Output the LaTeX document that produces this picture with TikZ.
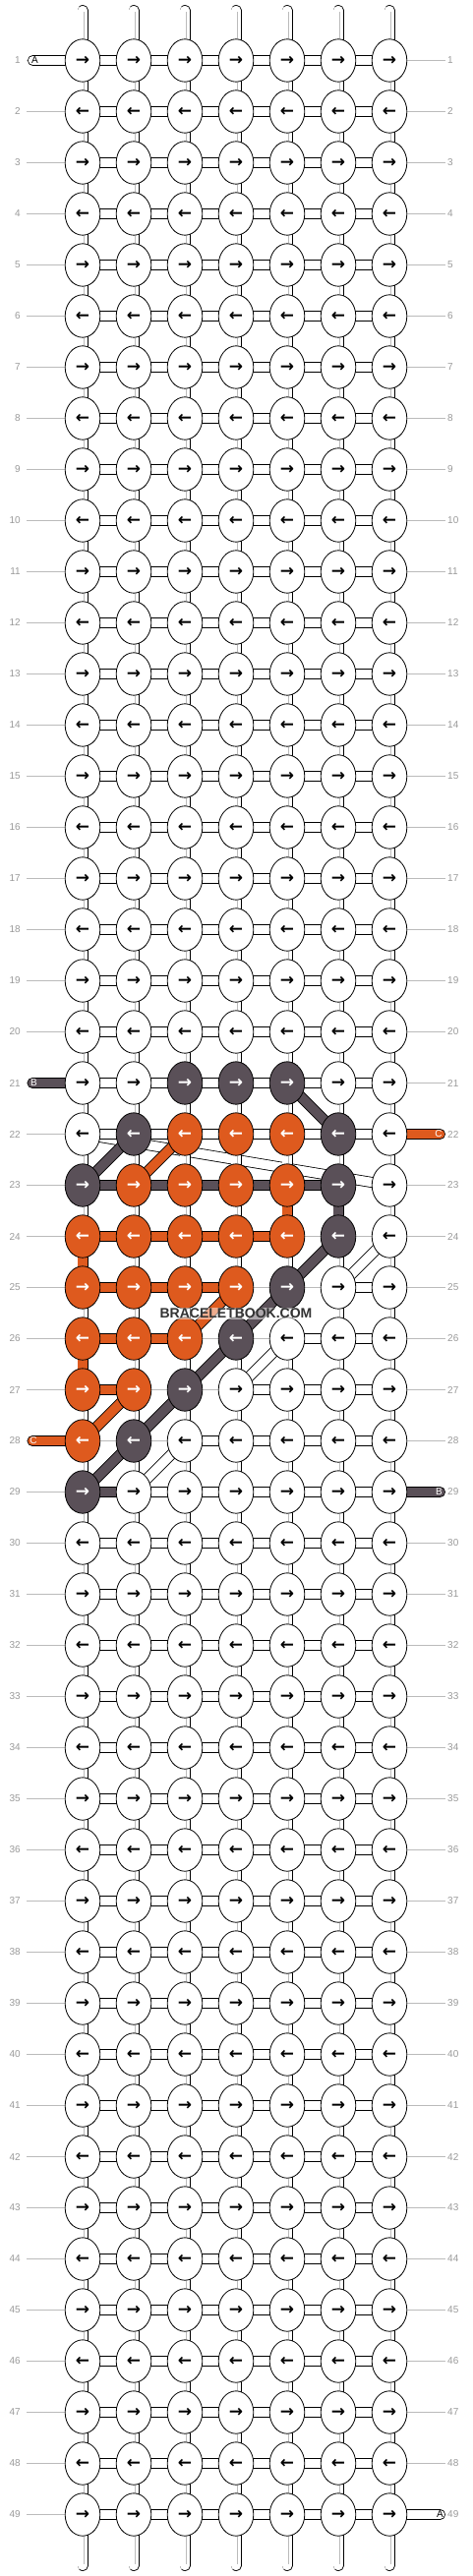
\documentclass[tikz,border=0pt]{standalone}
\usepackage{fontspec}
\setmainfont{Liberation Sans}
\newfontfamily\pilfont{DejaVu Sans}
\usetikzlibrary{shapes.geometric,backgrounds}

\definecolor{bdark}{HTML}{5A5058}
\definecolor{borange}{HTML}{DE5A1E}
\definecolor{linegray}{HTML}{BBBBBB}
\definecolor{numgray}{HTML}{999999}

\tikzset{
  knot/.style={ellipse, draw, line width=0.8pt, fill=white, text=black,
    minimum width=35.6pt, minimum height=43.4pt, inner sep=0pt,
    font=\pilfont\bfseries\fontsize{17}{17}\selectfont},
  darkknot/.style={fill=bdark, text=white},
  orangeknot/.style={fill=borange, text=white},
  tube/.style={line width=0.8pt, double=white, double distance=9.4pt},
  dtube/.style={tube, double=bdark},
  otube/.style={tube, double=borange},
  strand/.style={draw=linegray, line width=0.5pt, double=white, double distance=2pt},
  rowline/.style={draw=linegray, line width=0.8pt},
  rownum/.style={text=numgray, font=\fontsize{10}{12}\selectfont, inner sep=0pt},
  endlabel/.style={font=\fontsize{10}{12}\selectfont, inner sep=0pt},
  % fargede knuter
  k-21-3/.style=darkknot, k-21-4/.style=darkknot, k-21-5/.style=darkknot,
  k-22-2/.style=darkknot, k-22-6/.style=darkknot,
  k-22-3/.style=orangeknot, k-22-4/.style=orangeknot, k-22-5/.style=orangeknot,
  k-23-1/.style=darkknot, k-23-6/.style=darkknot,
  k-23-2/.style=orangeknot, k-23-3/.style=orangeknot, k-23-4/.style=orangeknot, k-23-5/.style=orangeknot,
  k-24-1/.style=orangeknot, k-24-2/.style=orangeknot, k-24-3/.style=orangeknot, k-24-4/.style=orangeknot, k-24-5/.style=orangeknot,
  k-24-6/.style=darkknot,
  k-25-1/.style=orangeknot, k-25-2/.style=orangeknot, k-25-3/.style=orangeknot, k-25-4/.style=orangeknot,
  k-25-5/.style=darkknot,
  k-26-1/.style=orangeknot, k-26-2/.style=orangeknot, k-26-3/.style=orangeknot,
  k-26-4/.style=darkknot,
  k-27-1/.style=orangeknot, k-27-2/.style=orangeknot,
  k-27-3/.style=darkknot,
  k-28-1/.style=orangeknot,
  k-28-2/.style=darkknot,
  k-29-1/.style=darkknot
}

\begin{document}
\begin{tikzpicture}[x=1pt, y=-1pt]
  \useasboundingbox (0,0) rectangle (480,2620);

  % Knuter
  \foreach \r in {1,...,49}
  \foreach \c in {1,...,7}
  \node[knot, k-\r-\c/.try] (k-\r-\c) at ({32+52*\c},{9.5+52*\r})
    {\ifodd\r\relax →\else ←\fi};

  % Radnummer
  \foreach \r in {1,...,49} {
    \node[rownum, anchor=east] (L-\r) at (21,{9.5+52*\r}) {\r};
    \node[rownum, anchor=west] (R-\r) at (455,{9.5+52*\r}) {\r};
  }

  % Endetråder
  \coordinate (A-in) at (33.5,61.5);
  \coordinate (A-out) at (447.5,2557.5);
  \coordinate (B-in) at (33,1101.5);
  \coordinate (B-out) at (447.5,1517.5);
  \coordinate (C-in) at (447.5,1153.5);
  \coordinate (C-out) at (33,1465.5);
  \foreach \c in {1,...,7} {
    \coordinate (t-\c) at ({32+52*\c},10.5);
    \coordinate (b-\c) at ({32+52*\c},2609.5);
  }

  \begin{scope}[on background layer]
    % Hjelpelinjer
    \foreach \r in {1,...,49}
    \draw[rowline] ([xshift=6pt]L-\r.east) -- ([xshift=-2pt]R-\r.west);

    % Tråd A bak mønsteret
    \draw[tube] (k-22-1.center) -- (k-23-7.center);
    \draw[tube] (k-24-7.center) -- (k-25-6.center);
    \draw[tube] (k-26-5.center) -- (k-27-4.center);
    \draw[tube] (k-28-3.center) -- (k-29-2.center);

    % Loddrette tråder
    \foreach \c in {1,...,7} {
      \draw[tube, line cap=round] (t-\c) -- (k-1-\c.center);
      \draw[strand] ([yshift=-2pt]t-\c) -- (k-1-\c.center);
      \draw[tube, line cap=round] (k-49-\c.center) -- (b-\c);
      \draw[strand] (k-49-\c.center) -- ([yshift=2pt]b-\c);
    }
    \foreach \r [count=\s from 2] in {1,...,48}
    \foreach \c in {1,...,7} {
      \draw[tube] (k-\r-\c.center) -- (k-\s-\c.center);
      \draw[strand] (k-\r-\c.center) -- (k-\s-\c.center);
    }

    % Vannrette tråder
    \foreach \a/\b in {1/22,30/49}
    \foreach \r in {\a,...,\b}
    \foreach \c [count=\d from 2] in {1,...,6}
    \draw[tube] (k-\r-\c.center) -- (k-\r-\d.center);
    \foreach \r/\a/\b/\s in {23/1/5/dtube, 24/1/4/otube, 25/1/3/otube, 25/6/6/tube,
        26/1/2/otube, 26/5/6/tube, 27/1/1/otube, 27/4/6/tube, 28/3/6/tube,
        29/1/1/dtube, 29/2/6/tube}
    \foreach \c in {\a,...,\b} {
      \pgfmathtruncatemacro\d{\c+1}
      \draw[\s] (k-\r-\c.center) -- (k-\r-\d.center);
    }

    % Fargede tråder
    \draw[otube] (k-23-5.center) -- (k-24-5.center);
    \draw[dtube] (k-23-6.center) -- (k-24-6.center);
    \draw[otube] (k-24-1.center) -- (k-25-1.center);
    \draw[otube] (k-26-1.center) -- (k-27-1.center);
    \draw[dtube] (k-23-1.center) -- (k-22-2.center);
    \draw[otube] (k-23-2.center) -- (k-22-3.center);
    \draw[dtube] (k-21-5.center) -- (k-22-6.center);
    \draw[dtube] (k-24-6.center) -- (k-29-1.center);
    \draw[otube] (k-25-4.center) -- (k-26-3.center);
    \draw[otube] (k-27-2.center) -- (k-28-1.center);

    % Tråder inn og ut
    \draw[tube, line cap=round] (A-in) -- (k-1-1.center);
    \draw[tube, line cap=round] (k-49-7.center) -- (A-out);
    \draw[dtube, line cap=round] (B-in) -- (k-21-1.center);
    \draw[dtube, line cap=round] (k-29-7.center) -- (B-out);
    \draw[otube, line cap=round] (C-in) -- (k-22-7.center);
    \draw[otube, line cap=round] (k-28-1.center) -- (C-out);
  \end{scope}

  % Merkelapper
  \node[endlabel] (lab-A1) at (35.5,61.5) {A};
  \node[endlabel] (lab-A2) at (447.5,2557.5) {A};
  \node[endlabel, text=white] (lab-B1) at (34.5,1101.5) {B};
  \node[endlabel, text=white] (lab-B2) at (446.5,1517.5) {B};
  \node[endlabel, text=white] (lab-C1) at (446,1153.5) {C};
  \node[endlabel, text=white] (lab-C2) at (34,1465.5) {C};

  % Vannmerke
  \node[font=\bfseries\fontsize{14}{14}\selectfont, text=black!80, fill=white,
    fill opacity=0.5, text opacity=1, inner sep=1pt] (wm) at (240,1336) {BRACELETBOOK.COM};
\end{tikzpicture}
\end{document}
